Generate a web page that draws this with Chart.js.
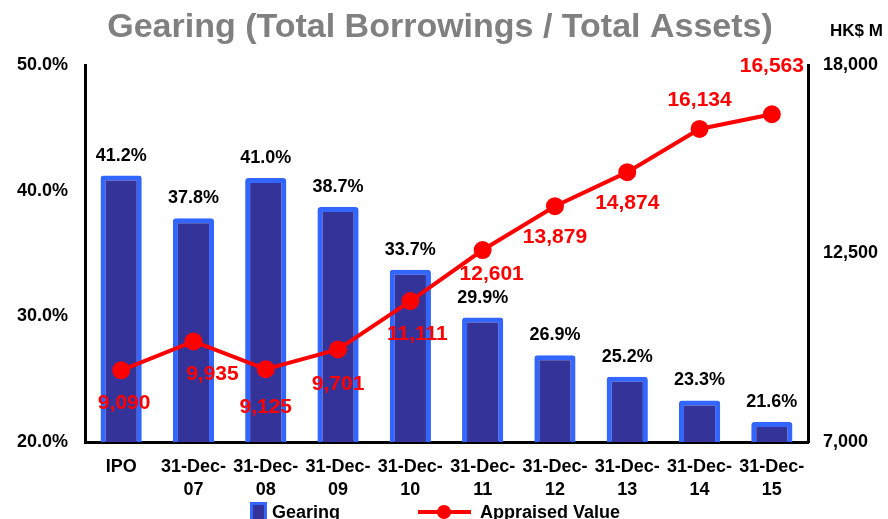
<!DOCTYPE html>
<html>
<head>
<meta charset="utf-8">
<script src="https://cdn.jsdelivr.net/npm/chart.js@4.4.1/dist/chart.umd.min.js"></script>
<style>
  body { margin: 0; background: #fff; }
  #wrap { width: 888px; height: 519px; position: relative; }
</style>
</head>
<body>
<div id="wrap"><canvas id="gearingChart"></canvas></div>
<script>
// データ
const categories = ['IPO', ['31-Dec-', '07'], ['31-Dec-', '08'], ['31-Dec-', '09'], ['31-Dec-', '10'],
  ['31-Dec-', '11'], ['31-Dec-', '12'], ['31-Dec-', '13'], ['31-Dec-', '14'], ['31-Dec-', '15']];
const gearing = [41.2, 37.8, 41.0, 38.7, 33.7, 29.9, 26.9, 25.2, 23.3, 21.6];  // %
const appraisedValue = [9090, 9935, 9125, 9701, 11111, 12601, 13879, 14874, 16134, 16563];  // HK$ M
const gearingTicks = [20, 30, 40, 50];
const valueTicks = [7000, 12500, 18000];

const FONT = '"Liberation Sans", Arial, sans-serif';

// 赤いラベルの位置調整 (dx, dy)
const valueLabelOffsets = [[3, 33], [19, 33], [0, 38], [0, 35], [7, 33], [9, 24], [0, 31], [0, 31], [0, -29], [0, -48]];

// タイトル・ラベル・凡例を描く
const decorPlugin = {
  id: 'decor',
  afterDatasetsDraw(chart) {
    const ctx = chart.ctx;
    ctx.save();
    ctx.textAlign = 'center';
    ctx.textBaseline = 'middle';

    // 棒の上のパーセント
    ctx.font = 'bold 18px ' + FONT;
    ctx.fillStyle = '#000';
    chart.getDatasetMeta(0).data.forEach((bar, i) => {
      ctx.fillText(gearing[i].toFixed(1) + '%', bar.x, bar.y - 20);
    });

    // 評価額ラベル
    ctx.font = 'bold 21px ' + FONT;
    ctx.fillStyle = '#FF0000';
    chart.getDatasetMeta(1).data.forEach((pt, i) => {
      const [dx, dy] = valueLabelOffsets[i];
      ctx.fillText(appraisedValue[i].toLocaleString('en-US'), pt.x + dx, pt.y + dy);
    });

    // タイトル
    ctx.font = 'bold 34px ' + FONT;
    ctx.fillStyle = '#808080';
    ctx.fillText('Gearing (Total Borrowings / Total Assets)', 440, 28);

    ctx.font = 'bold 17px ' + FONT;
    ctx.fillStyle = '#000';
    ctx.textAlign = 'left';
    ctx.fillText('HK$ M', 830, 31);

    // 凡例
    ctx.fillStyle = '#3366FF';
    ctx.fillRect(250, 502, 17, 17);
    ctx.fillStyle = '#333399';
    ctx.fillRect(253, 505, 11, 14);
    ctx.font = 'bold 18px ' + FONT;
    ctx.fillStyle = '#000';
    ctx.fillText('Gearing', 272, 513);

    ctx.strokeStyle = '#FF0000';
    ctx.lineWidth = 4;
    ctx.beginPath();
    ctx.moveTo(418, 512);
    ctx.lineTo(471, 512);
    ctx.stroke();
    ctx.fillStyle = '#FF0000';
    ctx.beginPath();
    ctx.arc(444, 512, 7, 0, Math.PI * 2);
    ctx.fill();
    ctx.fillStyle = '#000';
    ctx.fillText('Appraised Value', 480, 513);
    ctx.restore();
  }
};

const ctx = document.getElementById('gearingChart').getContext('2d');
new Chart(ctx, {
  type: 'bar',
  data: {
    labels: categories,
    datasets: [
      {
        label: 'Gearing',
        data: gearing,
        yAxisID: 'y',
        backgroundColor: '#333399',
        borderColor: '#3366FF',
        borderWidth: 5,
        borderRadius: 3,
        borderSkipped: 'start',
        barPercentage: 0.57,
        categoryPercentage: 1.0,
        order: 2
      },
      {
        type: 'line',
        label: 'Appraised Value',
        data: appraisedValue,
        yAxisID: 'y2',
        borderColor: '#FF0000',
        backgroundColor: '#FF0000',
        borderWidth: 4,
        pointRadius: 7,
        pointHoverRadius: 7,
        tension: 0,
        order: 1
      }
    ]
  },
  options: {
    responsive: true,
    maintainAspectRatio: false,
    animation: false,
    layout: { padding: { top: 65, left: 0, right: 0, bottom: 0 } },
    plugins: {
      legend: { display: false },
      title: { display: false },
      tooltip: { enabled: false }
    },
    scales: {
      x: {
        grid: { display: false, drawTicks: false },
        border: { color: '#000', width: 3 },
        ticks: {
          color: '#000',
          font: { family: FONT, size: 18, weight: 'bold', lineHeight: 1.3 },
          padding: 13,
          maxRotation: 0,
          autoSkip: false
        },
        afterFit(scale) { scale.height = 77; }
      },
      y: {
        position: 'left',
        min: 20,
        max: 50,
        afterBuildTicks(scale) { scale.ticks = gearingTicks.map(v => ({ value: v })); },
        grid: { display: false, drawTicks: false },
        border: { color: '#000', width: 3 },
        ticks: {
          color: '#000',
          font: { family: FONT, size: 18, weight: 'bold' },
          padding: 17,
          callback: v => v.toFixed(1) + '%'
        },
        afterFit(scale) { scale.width = 85; }
      },
      y2: {
        position: 'right',
        min: 7000,
        max: 18000,
        afterBuildTicks(scale) { scale.ticks = valueTicks.map(v => ({ value: v })); },
        grid: { display: false, drawTicks: false },
        border: { color: '#000', width: 3 },
        ticks: {
          color: '#000',
          font: { family: FONT, size: 18, weight: 'bold' },
          padding: 15,
          callback: v => v.toLocaleString('en-US')
        },
        afterFit(scale) { scale.width = 80; }
      }
    }
  },
  plugins: [decorPlugin]
});
</script>
</body>
</html>
